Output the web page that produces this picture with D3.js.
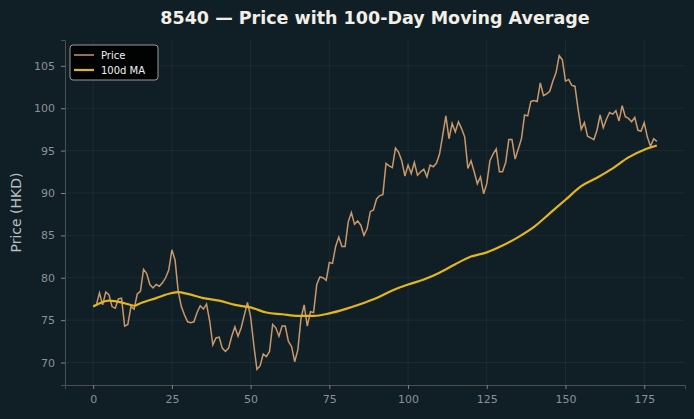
<!DOCTYPE html>
<html>
<head>
<meta charset="utf-8">
<script src="https://cdn.jsdelivr.net/npm/d3@7"></script>
<style>
  body { margin: 0; background: #101f26; }
  svg { display: block; font-family: "DejaVu Sans", sans-serif; }
</style>
</head>
<body>
<script>
// daily closing prices, day 0..179
var prices = [
  76.7, 76.8, 78.2, 76.8, 78.3, 78.0, 76.6, 76.4, 77.5, 77.6,
  74.3, 74.5, 76.6, 76.3, 78.1, 78.4, 81.0, 80.5, 79.2, 78.8,
  79.2, 79.0, 79.4, 80.0, 80.9, 83.3, 82.1, 78.4, 76.6, 75.6,
  74.8, 74.7, 74.8, 75.9, 76.7, 76.3, 76.9, 74.9, 72.1, 72.9,
  73.0, 71.7, 71.3, 71.7, 73.1, 74.2, 73.1, 74.1, 75.6, 77.1,
  75.4, 72.1, 69.2, 69.6, 71.0, 70.7, 71.3, 74.5, 74.1, 73.1,
  74.3, 74.3, 72.5, 71.9, 70.1, 71.5, 75.2, 76.8, 74.3, 76.0,
  75.9, 79.2, 80.1, 80.0, 79.7, 81.8, 81.7, 83.7, 84.8, 83.7,
  83.7, 86.6, 87.7, 86.3, 86.7, 86.2, 85.0, 85.8, 87.8, 88.0,
  89.3, 89.7, 89.8, 93.5, 93.2, 93.0, 95.3, 94.8, 93.8, 92.0,
  93.3, 92.3, 93.6, 92.1, 92.5, 92.8, 91.9, 93.3, 93.1, 93.5,
  94.6, 96.8, 99.1, 96.4, 98.2, 97.2, 98.4, 97.6, 96.6, 92.9,
  93.8, 92.5, 91.1, 91.9, 89.9, 91.1, 93.8, 94.6, 95.2, 92.5,
  92.5, 93.6, 96.3, 96.3, 94.0, 95.2, 96.4, 99.2, 99.1, 100.8,
  100.9, 100.8, 103.0, 101.5, 101.7, 102.0, 103.2, 104.2, 106.2, 105.7,
  103.2, 103.4, 102.7, 102.6, 99.9, 97.5, 98.3, 96.7, 96.5, 96.3,
  97.4, 99.2, 97.7, 98.7, 99.5, 99.3, 99.7, 98.5, 100.3, 99.0,
  98.8, 98.4, 98.9, 97.4, 97.3, 98.3, 96.6, 95.5, 96.4, 96.1
];

// 100-day moving average, read at these days
var maDays = [0, 5, 10, 13, 15, 20, 25, 27, 30, 35, 40, 45, 50, 55, 60, 65, 70, 75, 80, 85,
  90, 95, 100, 105, 110, 115, 120, 125, 130, 135, 140, 145, 150, 155, 160, 165, 170, 175, 179];
var maValues = [76.6, 77.3, 77.0, 76.7, 77.0, 77.6, 78.2, 78.3, 78.1, 77.6, 77.3, 76.8, 76.5, 75.9, 75.7, 75.5, 75.5, 75.8, 76.3, 76.9,
  77.6, 78.5, 79.2, 79.8, 80.6, 81.6, 82.5, 83.0, 83.8, 84.8, 86.0, 87.6, 89.2, 90.8, 91.8, 92.9, 94.2, 95.1, 95.6];

var xTicks = [0, 25, 50, 75, 100, 125, 150, 175];
var yTicks = [70, 75, 80, 85, 90, 95, 100, 105];

var W = 694, H = 419;
var margin = { top: 40, right: 9, bottom: 34, left: 65 },
    width = W - margin.left - margin.right,
    height = H - margin.top - margin.bottom;

var svg = d3.select("body").append("svg")
    .attr("width", W)
    .attr("height", H);

svg.append("rect").attr("width", W).attr("height", H).attr("fill", "#101f26");

var g = svg.append("g")
    .attr("transform", "translate(" + margin.left + "," + margin.top + ")");

// matplotlib-like 5% margins
var n = prices.length;
var x = d3.scaleLinear()
    .domain([-(n - 1) * 0.05, (n - 1) * 1.05])
    .range([0, width]);
var ymin = d3.min(prices), ymax = d3.max(prices), pad = (ymax - ymin) * 0.05;
var y = d3.scaleLinear()
    .domain([ymin - pad, ymax + pad])
    .range([height, 0]);

// grid
g.append("g").selectAll("line").data(xTicks).enter().append("line")
    .attr("x1", function (d) { return x(d); }).attr("x2", function (d) { return x(d); })
    .attr("y1", 0).attr("y2", height)
    .attr("stroke", "#ffffff").attr("stroke-opacity", 0.05);
g.append("g").selectAll("line").data(yTicks).enter().append("line")
    .attr("y1", function (d) { return y(d); }).attr("y2", function (d) { return y(d); })
    .attr("x1", 0).attr("x2", width)
    .attr("stroke", "#ffffff").attr("stroke-opacity", 0.05);

// axes
var xAxis = g.append("g")
    .attr("transform", "translate(0," + height + ")")
    .call(d3.axisBottom(x).tickValues(xTicks).tickSizeOuter(0).tickSize(4).tickPadding(6));
var yAxis = g.append("g")
    .call(d3.axisLeft(y).tickValues(yTicks).tickSizeOuter(0).tickSize(4).tickPadding(6));

[xAxis, yAxis].forEach(function (a) {
    a.select(".domain").attr("stroke", "#4a4f52");
    a.selectAll(".tick line").attr("stroke", "#7d8386");
    a.selectAll(".tick text").attr("fill", "#8b9296").attr("font-size", 11)
        .attr("font-family", "DejaVu Sans");
});

// price line
var priceLine = d3.line()
    .x(function (d, i) { return x(i); })
    .y(function (d) { return y(d); });
g.append("path")
    .datum(prices)
    .attr("fill", "none")
    .attr("stroke", "#c9986b")
    .attr("stroke-width", 1.5)
    .attr("d", priceLine);

// moving average
var maLine = d3.line()
    .curve(d3.curveMonotoneX)
    .x(function (d, i) { return x(maDays[i]); })
    .y(function (d) { return y(d); });
g.append("path")
    .datum(maValues)
    .attr("fill", "none")
    .attr("stroke", "#e3b61c")
    .attr("stroke-width", 2.2)
    .attr("d", maLine);

// title
svg.append("text")
    .attr("x", margin.left + width / 2)
    .attr("y", 24)
    .attr("text-anchor", "middle")
    .attr("fill", "#f2efe6")
    .attr("font-size", 17.5)
    .attr("font-weight", "bold")
    .text("8540 \u2014 Price with 100-Day Moving Average");

// y label
svg.append("text")
    .attr("transform", "translate(21," + (margin.top + height / 2) + ") rotate(-90)")
    .attr("text-anchor", "middle")
    .attr("fill", "#b9bfc2")
    .attr("font-size", 14)
    .text("Price (HKD)");

// legend
var leg = g.append("g").attr("transform", "translate(5,5)");
leg.append("rect")
    .attr("width", 88).attr("height", 35).attr("rx", 3)
    .attr("fill", "#000000").attr("fill-opacity", 0.9)
    .attr("stroke", "#9a9a9a").attr("stroke-width", 1);
var items = [
    { label: "Price", color: "#c9986b", w: 1.5 },
    { label: "100d MA", color: "#e3b61c", w: 2.2 }
];
items.forEach(function (it, i) {
    var yy = 10 + i * 15;
    leg.append("line")
        .attr("x1", 4).attr("x2", 24).attr("y1", yy).attr("y2", yy)
        .attr("stroke", it.color).attr("stroke-width", it.w);
    leg.append("text")
        .attr("x", 31).attr("y", yy + 3.5)
        .attr("fill", "#f0f0f0").attr("font-size", 10)
        .text(it.label);
});
</script>
</body>
</html>
